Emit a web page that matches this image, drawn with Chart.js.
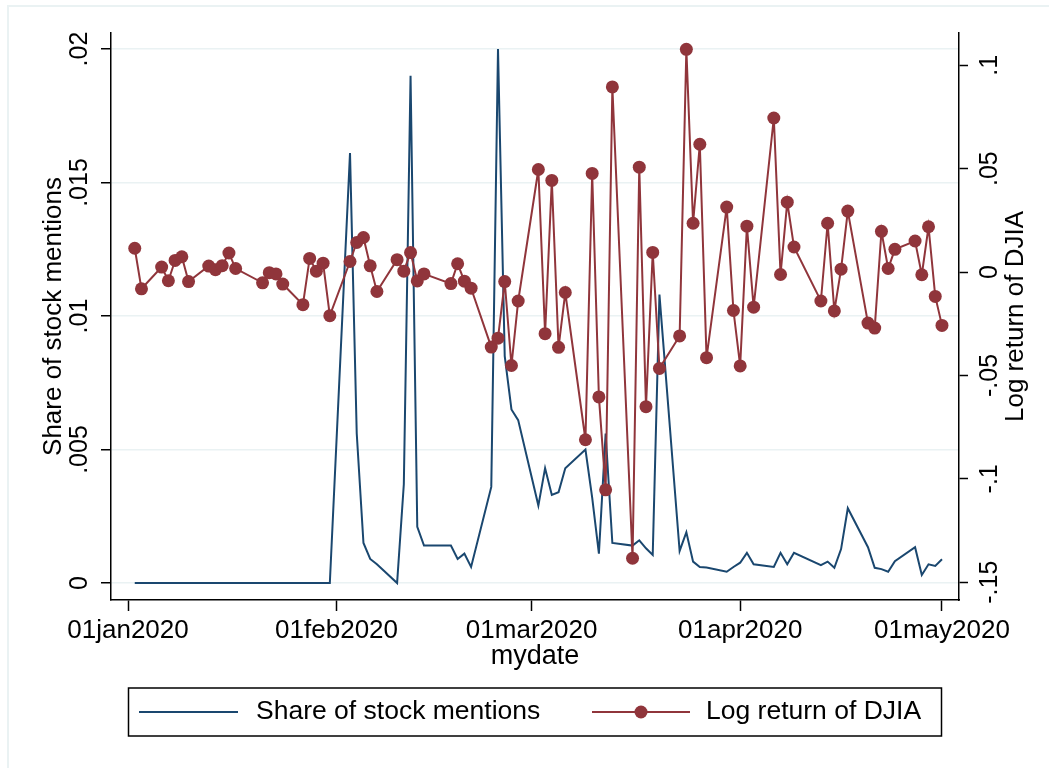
<!DOCTYPE html>
<html lang="en">
<head>
<meta charset="UTF-8" />
<title>Share of stock mentions and DJIA log return</title>
<script src="https://cdn.jsdelivr.net/npm/chart.js"></script>
<style>
  body { margin: 0; background: #fff; }
  #wrap { width: 1049px; height: 768px; }
</style>
</head>
<body>
<div id="wrap"><canvas id="c" width="1049" height="768"></canvas></div>
<script>
// trading days, Jan 2 - May 1 2020
const dates = [
  '2020-01-02','2020-01-03','2020-01-06','2020-01-07','2020-01-08','2020-01-09','2020-01-10',
  '2020-01-13','2020-01-14','2020-01-15','2020-01-16','2020-01-17','2020-01-21','2020-01-22',
  '2020-01-23','2020-01-24','2020-01-27','2020-01-28','2020-01-29','2020-01-30','2020-01-31',
  '2020-02-03','2020-02-04','2020-02-05','2020-02-06','2020-02-07','2020-02-10','2020-02-11',
  '2020-02-12','2020-02-13','2020-02-14','2020-02-18','2020-02-19','2020-02-20','2020-02-21',
  '2020-02-24','2020-02-25','2020-02-26','2020-02-27','2020-02-28',
  '2020-03-02','2020-03-03','2020-03-04','2020-03-05','2020-03-06','2020-03-09','2020-03-10',
  '2020-03-11','2020-03-12','2020-03-13','2020-03-16','2020-03-17','2020-03-18','2020-03-19',
  '2020-03-20','2020-03-23','2020-03-24','2020-03-25','2020-03-26','2020-03-27','2020-03-30',
  '2020-03-31',
  '2020-04-01','2020-04-02','2020-04-03','2020-04-06','2020-04-07','2020-04-08','2020-04-09',
  '2020-04-13','2020-04-14','2020-04-15','2020-04-16','2020-04-17','2020-04-20','2020-04-21',
  '2020-04-22','2020-04-23','2020-04-24','2020-04-27','2020-04-28','2020-04-29','2020-04-30',
  '2020-05-01'
];

const mentions = [
  0, 0, 0, 0, 0, 0, 0,
  0, 0, 0, 0, 0, 0, 0,
  0, 0, 0, 0, 0, 0, 0,
  0.0161, 0.0056, 0.0015, 0.0009, 0.0007, 0, 0.0037,
  0.0190, 0.0021, 0.0014, 0.0014, 0.0009, 0.0011, 0.0006,
  0.0036, 0.0200, 0.0085, 0.0065, 0.0061,
  0.0029, 0.0043, 0.0033, 0.0034, 0.0043, 0.0050, 0.0032,
  0.0011, 0.0056, 0.0015, 0.0014, 0.0016, 0.0013, 0.00105,
  0.0108, 0.0012, 0.0019, 0.0008, 0.0006, 0.00058, 0.00042,
  0.0006,
  0.00076, 0.00113, 0.0007, 0.0006, 0.00113, 0.0007, 0.00113,
  0.00067, 0.0008, 0.00057, 0.00127, 0.0028, 0.00134, 0.00057,
  0.00052, 0.00042, 0.00082, 0.00134, 0.0003, 0.0007, 0.00064,
  0.00089
];

const djia = [
  0.0115, -0.0081, 0.0024, -0.0042, 0.0056, 0.0074, -0.0046,
  0.0029, 0.0011, 0.0031, 0.0092, 0.0017, -0.0052, -0.0003,
  -0.0009, -0.0058, -0.0158, 0.0066, 0.0004, 0.0043, -0.0211,
  0.0051, 0.0143, 0.0167, 0.0030, -0.0094, 0.0060, 0.0004,
  0.0094, -0.0043, -0.0009, -0.0056, 0.0040, -0.0044, -0.0078,
  -0.0363, -0.0320, -0.0046, -0.0452, -0.0140,
  0.0496, -0.0298, 0.0443, -0.0364, -0.0099, -0.0811, 0.0477,
  -0.0604, -0.1053, 0.0895, -0.1384, 0.0507, -0.0651, 0.0095,
  -0.0466, -0.0309, 0.1077, 0.0236, 0.0618, -0.0414, 0.0314,
  -0.0186,
  -0.0454, 0.0222, -0.0170, 0.0745, -0.0012, 0.0338, 0.0121,
  -0.0140, 0.0236, -0.0188, 0.0014, 0.0295, -0.0247, -0.0271,
  0.0197, 0.0017, 0.0110, 0.0150, -0.0013, 0.0219, -0.0118,
  -0.0258
];

const xTickDays = [0, 31, 60, 91, 121];
const xTickLabels = ['01jan2020', '01feb2020', '01mar2020', '01apr2020', '01may2020'];
const leftTicks = [0, 0.005, 0.01, 0.015, 0.02];
const leftTickLabels = ['0', '.005', '.01', '.015', '.02'];
const rightTicks = [-0.15, -0.1, -0.05, 0, 0.05, 0.1];
const rightTickLabels = ['-.15', '-.1', '-.05', '0', '.05', '.1'];

const FONT = '"Liberation Sans", Arial, sans-serif';
const NAVY = '#1a476f';
const MAROON = '#90353b';
const GRID = '#eaf2f3';

function dayOf(s) {
  const [y, m, d] = s.split('-').map(Number);
  return (Date.UTC(y, m - 1, d) - Date.UTC(2020, 0, 1)) / 864e5;
}
const xs = dates.map(dayOf);

function rotText(c, txt, x, y) {
  c.save();
  c.translate(x, y);
  c.rotate(-Math.PI / 2);
  c.fillText(txt, 0, 0);
  c.restore();
}

// rotated y labels, titles and the boxed legend, Stata style
const stataText = {
  id: 'stataText',
  beforeDraw(chart) {
    const c = chart.ctx;
    c.save();
    c.strokeStyle = GRID;
    c.lineWidth = 2;
    c.beginPath();
    c.moveTo(8, 768); c.lineTo(8, 6); c.lineTo(1049, 6);
    c.stroke();
    c.restore();
  },
  afterDraw(chart) {
    const c = chart.ctx;
    const a = chart.chartArea;
    const yl = chart.scales.y, yr = chart.scales.y1;
    c.save();
    c.fillStyle = '#000';
    c.textAlign = 'center';
    c.textBaseline = 'middle';
    c.font = '25px ' + FONT;
    leftTicks.forEach((v, i) => rotText(c, leftTickLabels[i], 80, yl.getPixelForValue(v)));
    rightTicks.forEach((v, i) => rotText(c, rightTickLabels[i], 990, yr.getPixelForValue(v)));

    c.font = '26px ' + FONT;
    const midY = (a.top + a.bottom) / 2;
    rotText(c, 'Share of stock mentions', 54, midY);
    rotText(c, 'Log return of DJIA', 1016, midY);
    c.font = '27px ' + FONT;
    c.fillText('mydate', (a.left + a.right) / 2, 657);

    // legend
    c.strokeStyle = '#000';
    c.lineWidth = 1.5;
    c.strokeRect(128.5, 688, 813, 48);
    const ly = 712;
    c.lineWidth = 2;
    c.strokeStyle = NAVY;
    c.beginPath(); c.moveTo(139, ly); c.lineTo(238, ly); c.stroke();
    c.strokeStyle = MAROON;
    c.beginPath(); c.moveTo(592, ly); c.lineTo(690, ly); c.stroke();
    c.fillStyle = MAROON;
    c.beginPath(); c.arc(641, ly, 6.5, 0, Math.PI * 2); c.fill();
    c.fillStyle = '#000';
    c.textAlign = 'left';
    c.font = '26.5px ' + FONT;
    c.fillText('Share of stock mentions', 256, ly);
    c.fillText('Log return of DJIA', 706, ly);
    c.restore();
  }
};

const ctx = document.getElementById('c').getContext('2d');
new Chart(ctx, {
  type: 'line',
  data: {
    datasets: [
      {
        label: 'Share of stock mentions',
        data: xs.map((x, i) => ({ x: x, y: mentions[i] })),
        yAxisID: 'y',
        borderColor: NAVY,
        borderWidth: 2,
        pointRadius: 0,
        tension: 0,
        order: 2
      },
      {
        label: 'Log return of DJIA',
        data: xs.map((x, i) => ({ x: x, y: djia[i] })),
        yAxisID: 'y1',
        borderColor: MAROON,
        backgroundColor: MAROON,
        borderWidth: 2,
        pointRadius: 6.5,
        pointBorderWidth: 0,
        pointBackgroundColor: MAROON,
        tension: 0,
        order: 1
      }
    ]
  },
  options: {
    responsive: false,
    animation: false,
    layout: { padding: { top: 33, left: 0, right: 0, bottom: 0 } },
    plugins: { legend: { display: false }, tooltip: { enabled: false } },
    scales: {
      x: {
        type: 'linear',
        min: -2.53,
        max: 123.53,
        afterBuildTicks: s => { s.ticks = xTickDays.map(v => ({ value: v })); },
        afterFit: s => { s.height = 168; },
        ticks: {
          callback: (v, i) => xTickLabels[i],
          font: { family: FONT, size: 26 },
          color: '#000',
          maxRotation: 0,
          autoSkip: false,
          padding: 4
        },
        grid: { drawOnChartArea: false, tickLength: 11, tickColor: '#000', tickWidth: 1.5 },
        border: { color: '#000', width: 1.5 }
      },
      y: {
        position: 'left',
        min: -0.000637,
        max: 0.0206,
        afterBuildTicks: s => { s.ticks = leftTicks.map(v => ({ value: v })); },
        afterFit: s => { s.width = 111; },
        ticks: { display: false },
        grid: { color: GRID, lineWidth: 1.5, tickLength: 10, tickColor: '#000', tickWidth: 1.5 },
        border: { color: '#000', width: 1.5 }
      },
      y1: {
        position: 'right',
        min: -0.1586,
        max: 0.1156,
        afterBuildTicks: s => { s.ticks = rightTicks.map(v => ({ value: v })); },
        afterFit: s => { s.width = 90; },
        ticks: { display: false },
        grid: { drawOnChartArea: false, tickLength: 9, tickColor: '#000', tickWidth: 1.5 },
        border: { color: '#000', width: 1.5 }
      }
    }
  },
  plugins: [stataText]
});
</script>
</body>
</html>
